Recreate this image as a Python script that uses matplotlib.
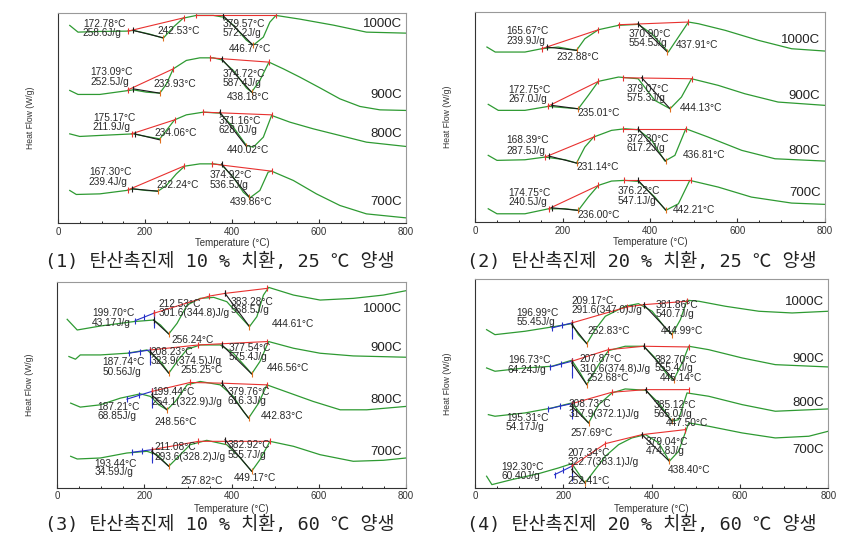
import matplotlib.pyplot as plt
from matplotlib.ticker import MultipleLocator

# curve data: (temperature in C, relative heat flow)
# panel 1 - 10 % replacement, 25 C curing
p1_1000 = [(27, 197.7), (46, 191), (96, 191.7), (157, 192), (173, 192.7), (211, 189), (242, 185),
           (265, 196), (288, 205), (318, 207.7), (357, 207.7), (380, 206), (403, 198), (433, 183),
           (449, 178), (472, 186), (487, 201), (501, 207.7), (556, 204), (633, 198), (709, 191), (800, 190)]
p1_900 = [(27, 132.7), (46, 128.7), (96, 128.7), (173, 133.3), (203, 131), (234, 130), (249, 139),
          (265, 154.3), (295, 162.7), (326, 165.3), (357, 165.3), (376, 163.3), (403, 152.7), (433, 135.3),
          (445, 131), (464, 142.7), (485, 161), (518, 154.3), (556, 146), (602, 135.3), (648, 124.3),
          (694, 116.7), (740, 113.3), (800, 112.7)]
p1_800 = [(27, 89.3), (50, 86.7), (96, 87.7), (173, 89.3), (203, 86.7), (234, 84.3), (249, 92.7),
          (268, 103.3), (295, 108.3), (334, 111), (372, 110), (403, 96), (433, 77.7), (449, 76),
          (472, 86), (491, 107.7), (533, 101), (587, 94.3), (633, 89.3), (709, 81), (800, 76.7)]
p1_700 = [(27, 32.7), (42, 28.7), (96, 29.3), (157, 32.7), (173, 34.3), (203, 32.7), (230, 32),
          (249, 37.7), (272, 49.3), (291, 57), (326, 59.3), (357, 59.3), (376, 58.3), (403, 46),
          (426, 31), (441, 25.3), (464, 32.7), (483, 51), (491, 52), (541, 42.7), (594, 29.3),
          (648, 17.7), (709, 9.3), (800, 5.3)]

# panel 2 - 20 % replacement, 25 C curing
p2_1000 = [(27, 175), (46, 170), (114, 170), (152, 173.3), (190, 175), (232, 171.7), (251, 183.3),
           (282, 192.3), (328, 196.7), (373, 197.7), (404, 188.3), (442, 170), (465, 185), (488, 200),
           (511, 198.3), (572, 191.7), (648, 181.7), (724, 173.3), (800, 171)]
p2_900 = [(30, 117.7), (53, 111.7), (114, 111.7), (168, 115.7), (206, 114.3), (236, 113.3), (259, 126.7),
          (282, 140.7), (328, 145), (373, 143.3), (411, 121.7), (446, 113.3), (472, 125), (495, 143.3),
          (556, 136.7), (617, 128.3), (693, 120), (800, 116.7)]
p2_800 = [(30, 66.7), (50, 61.7), (114, 62.3), (160, 65), (206, 62.3), (232, 59), (251, 75), (271, 85),
          (312, 91.7), (343, 93.3), (373, 92.3), (404, 81.7), (434, 61), (457, 66.7), (482, 93.3),
          (533, 85), (610, 71.7), (686, 63.3), (800, 61)]
p2_700 = [(30, 13.3), (50, 8.3), (114, 8.3), (168, 13.3), (206, 13.3), (236, 11.7), (259, 25),
          (282, 36.7), (312, 41), (343, 41.7), (373, 40.7), (411, 25), (436, 11.7), (465, 18.3),
          (491, 41.7), (556, 35), (632, 25), (724, 19), (800, 17.7)]

# panel 3 - 10 % replacement, 60 C curing
p3_1000 = [(23, 169), (46, 158.3), (99, 162.3), (175, 166.7), (221, 168.3), (237, 163.3), (256, 154.3),
           (275, 165), (298, 183.3), (328, 190), (359, 191), (389, 186.7), (420, 171.7), (441, 161.7),
           (458, 171.7), (473, 193.3), (485, 201), (542, 193.3), (603, 188.3), (679, 190), (748, 193.3),
           (800, 197.7)]
p3_900 = [(27, 131.7), (42, 129), (53, 133.3), (99, 133.3), (160, 135), (206, 138.3), (237, 126.7),
          (256, 115), (275, 126.7), (298, 139), (328, 143.3), (374, 143.3), (404, 135), (435, 120),
          (446, 114.3), (465, 126.7), (485, 146.7), (542, 140), (603, 135), (679, 132.3), (800, 131)]
p3_800 = [(31, 85), (53, 81), (99, 83.3), (145, 90), (191, 94.3), (214, 91.7), (233, 83.3), (252, 78.3),
          (271, 86.7), (298, 103.3), (328, 106.7), (374, 103.3), (404, 91.7), (427, 76.7), (439, 70),
          (462, 85), (481, 103.3), (534, 95), (587, 86.7), (649, 78.3), (710, 78.3), (800, 81.7)]
p3_700 = [(31, 31.7), (46, 29), (99, 30), (160, 35), (206, 36.7), (229, 33.3), (256, 21.7), (275, 30),
          (305, 43.3), (343, 47.7), (389, 43.3), (420, 30), (446, 16.7), (465, 28.3), (488, 46.7),
          (542, 41.7), (603, 33.3), (679, 26.7), (748, 27.7), (800, 30)]

# panel 4 - 20 % replacement, 60 C curing
p4_1000 = [(26, 158.3), (45, 153.3), (113, 156.7), (174, 161), (219, 164.3), (234, 153.3), (253, 144.3),
           (272, 158.3), (295, 171.7), (340, 181.7), (370, 184.3), (401, 176.7), (431, 160), (446, 153.3),
           (465, 168.3), (480, 187.7), (507, 186.7), (567, 181.7), (643, 176.7), (718, 175), (800, 176.7)]
p4_900 = [(26, 120), (45, 116.7), (113, 120), (174, 121.7), (219, 127.7), (238, 115), (253, 103.3),
          (280, 123.3), (302, 137.3), (340, 141.7), (382, 141.7), (408, 130), (438, 111.7), (450, 108.3),
          (469, 125), (484, 141.7), (529, 138.3), (605, 130), (680, 123.3), (800, 121)]
p4_800 = [(30, 73.3), (45, 71.7), (113, 75), (174, 80), (219, 85), (238, 75), (257, 65), (280, 83.3),
          (310, 95), (340, 99), (386, 97.7), (416, 85), (446, 66.7), (461, 68.3), (480, 95), (529, 91.7),
          (605, 83.3), (680, 76.7), (800, 79)]
p4_700 = [(26, 11.7), (38, 3.3), (83, 8.3), (144, 14.3), (189, 20), (219, 24.3), (249, 5), (272, 18.3),
          (295, 31.7), (325, 43.3), (355, 50), (386, 53.3), (416, 45), (440, 26.7), (461, 36.7),
          (484, 65), (529, 61.7), (605, 55), (680, 50), (756, 51.7), (800, 56.7)]

series_names = ['1000C', '900C', '800C', '700C']

# analysis lines: (color, points)
p1_lines = [
    ('r', [(161, 192), (289, 205.3)]), ('r', [(318, 207.7), (501, 207.7)]),
    ('k', [(173, 192.7), (242, 185.3)]), ('k', [(380, 207.3), (449, 177.7)]),
    ('r', [(161, 133.3), (265, 154.3)]), ('r', [(350, 165.3), (485, 161)]),
    ('k', [(173, 134.3), (234, 130)]), ('k', [(376, 164.3), (445, 131)]),
    ('r', [(169, 89.3), (268, 103.3)]), ('r', [(334, 111), (491, 108.3)]),
    ('k', [(176, 89.3), (234, 83.3)]), ('k', [(372, 111), (433, 76.7)]),
    ('r', [(161, 33.3), (289, 57)]), ('r', [(354, 59.3), (491, 52)]),
    ('k', [(171, 34.3), (230, 32)]), ('k', [(376, 59.3), (440, 26)]),
]
p2_lines = [
    ('r', [(152, 173.3), (282, 192.3)]), ('r', [(328, 197.3), (488, 200)]),
    ('k', [(164, 175), (232, 171.7)]), ('k', [(373, 198.3), (440, 170)]),
    ('r', [(166, 115.7), (282, 140.7)]), ('r', [(339, 144.3), (495, 143.3)]),
    ('k', [(175, 116.7), (235, 113.3)]), ('k', [(381, 144.3), (446, 113.3)]),
    ('r', [(160, 65), (271, 85)]), ('r', [(339, 93.3), (482, 93.3)]),
    ('k', [(169, 66), (232, 59)]), ('k', [(373, 93.3), (436, 61)]),
    ('r', [(168, 13.3), (282, 36.7)]), ('r', [(341, 41.7), (494, 41.7)]),
    ('k', [(175, 14.3), (236, 11.7)]), ('k', [(373, 41.7), (436, 12.3)]),
]
p3_lines = [
    ('b', [(179, 167.7), (200, 171.3), (221, 175)]), ('b', [(221, 175), (221, 163)]),
    ('r', [(221, 175), (349, 192.3), (385, 195), (481, 200)]),
    ('k', [(221, 168.3), (256, 154.3)]), ('k', [(385, 195), (441, 161.7)]),
    ('b', [(164, 135), (189, 136.7), (214, 138.3)]), ('b', [(214, 138.3), (214, 126)]),
    ('r', [(214, 138.3), (324, 143.3), (378, 144.5), (481, 146.7)]),
    ('k', [(214, 136.7), (256, 115)]), ('k', [(378, 143.3), (446, 114.3)]),
    ('b', [(160, 89), (188, 92.8), (217, 96.7)]), ('b', [(217, 96.7), (217, 83)]),
    ('r', [(217, 96.7), (305, 105.7), (378, 105), (481, 103.3)]),
    ('k', [(217, 93.3), (252, 78.3)]), ('k', [(378, 105), (439, 70)]),
    ('b', [(172, 35.7), (194, 37), (217, 38.3)]), ('b', [(217, 38.3), (217, 28)]),
    ('r', [(217, 38.3), (324, 46.7), (385, 46.7), (488, 46.7)]),
    ('k', [(217, 36.7), (256, 21.7)]), ('k', [(385, 48.3), (446, 16.7)]),
]
p4_lines = [
    ('b', [(174, 160), (196, 162.5), (219, 165)]), ('b', [(219, 165), (219, 152)]),
    ('r', [(219, 165), (344, 181), (382, 183.3), (480, 186.7)]),
    ('k', [(219, 163.3), (253, 144.3)]), ('k', [(382, 183.3), (446, 153.3)]),
    ('b', [(170, 121), (194, 123.8), (219, 126.7)]), ('b', [(219, 126.7), (219, 113)]),
    ('r', [(219, 126.7), (302, 138.3), (382, 141.7), (484, 141)]),
    ('k', [(219, 125), (253, 103.3)]), ('k', [(382, 141.7), (450, 108.3)]),
    ('b', [(166, 79), (192, 81.7), (219, 84.3)]), ('b', [(219, 84.3), (219, 72)]),
    ('r', [(219, 84.3), (310, 95.7), (386, 98.3), (484, 98.3)]),
    ('k', [(219, 81.7), (257, 65)]), ('k', [(386, 98.3), (446, 66.7)]),
    ('b', [(180, 13.3), (200, 17.5), (219, 21.7)]), ('b', [(219, 21.7), (219, 10)]),
    ('r', [(219, 21.7), (295, 44.3), (378, 53.3), (476, 58.3)]),
    ('k', [(219, 18.3), (249, 5)]), ('k', [(378, 53.3), (440, 26.7)]),
]

# annotation texts: (text, temperature, level)
p1_texts = [
    ('172.78°C', 57, 199.3), ('258.6J/g', 57, 190), ('242.53°C', 228, 192),
    ('379.57°C', 378, 199.3), ('572.2J/g', 378, 190), ('446.77°C', 393, 174.3),
    ('173.09°C', 74, 151), ('252.5J/g', 74, 141), ('233.93°C', 220, 138.7),
    ('374.72°C', 378, 149.3), ('587.4J/g', 378, 140), ('438.18°C', 387, 126),
    ('175.17°C', 80, 105.3), ('211.9J/g', 80, 96), ('234.06°C', 222, 90),
    ('371.16°C', 370, 102), ('628.0J/g', 370, 92.7), ('440.02°C', 389, 73.3),
    ('167.30°C', 71, 51), ('239.4J/g', 71, 41), ('232.24°C', 226, 37.7),
    ('374.92°C', 349, 47.7), ('536.5J/g', 349, 37.7), ('439.86°C', 395, 21),
]
p2_texts = [
    ('165.67°C', 71, 190.7), ('239.9J/g', 71, 181), ('232.88°C', 187, 165),
    ('370.90°C', 352, 188.3), ('554.5J/g', 352, 179), ('437.91°C', 459, 176.7),
    ('172.75°C', 76, 132.3), ('267.0J/g', 76, 123), ('235.01°C', 235, 109),
    ('379.07°C', 347, 133.3), ('575.3J/g', 347, 124.3), ('444.13°C', 469, 114.3),
    ('168.39°C', 71, 81.7), ('287.5J/g', 71, 71), ('231.14°C', 232, 55),
    ('372.30°C', 347, 83.3), ('617.2J/g', 347, 74), ('436.81°C', 474, 66.7),
    ('174.75°C', 76, 29), ('240.5J/g', 76, 20), ('236.00°C', 235, 7.3),
    ('376.22°C', 326, 31), ('547.1J/g', 326, 21), ('442.21°C', 453, 12.3),
]
p3_texts = [
    ('199.70°C', 80, 175.7), ('43.17J/g', 80, 165.7), ('212.53°C', 233, 184.3),
    ('301.6(344.8)J/g', 233, 175), ('256.24°C', 261, 148.3), ('383.28°C', 398, 186.7),
    ('568.5J/g', 398, 178.3), ('444.61°C', 492, 164.3),
    ('208.23°C', 214, 136.7), ('323.9(374.5)J/g', 214, 127.7), ('187.74°C', 103, 126.5),
    ('50.56J/g', 103, 116.5), ('255.25°C', 282, 117.7), ('377.54°C', 393, 140),
    ('575.4J/g', 393, 131), ('446.56°C', 481, 120),
    ('199.44°C', 217, 95.7), ('254.1(322.9)J/g', 217, 85.7), ('187.21°C', 92, 81),
    ('68.85J/g', 92, 71.7), ('248.56°C', 223, 65.7), ('379.76°C', 391, 95.7),
    ('616.3J/g', 391, 86.7), ('442.83°C', 467, 72.3),
    ('211.08°C', 223, 41), ('293.6(328.2)J/g', 223, 31), ('193.44°C', 85, 24.3),
    ('34.59J/g', 85, 15.7), ('257.82°C', 282, 6.7), ('382.92°C', 391, 43.3),
    ('555.7J/g', 391, 33.3), ('449.17°C', 404, 10),
]
p4_texts = [
    ('209.17°C', 218, 186.7), ('291.6(347.0)J/g', 218, 177.7), ('196.99°C', 94, 175),
    ('55.45J/g', 94, 166), ('381.86°C', 408, 182.5), ('540.7J/g', 408, 174),
    ('252.83°C', 255, 157.3), ('444.99°C', 420, 157.3),
    ('196.73°C', 74, 127.7), ('64.24J/g', 74, 118.3), ('207.87°C', 236, 129),
    ('310.6(374.8)J/g', 236, 119.3), ('382.70°C', 407, 128.3), ('555.4J/g', 407, 120),
    ('252.68°C', 253, 110), ('445.14°C', 418, 110),
    ('208.73°C', 212, 84), ('317.9(372.1)J/g', 212, 74.3), ('385.12°C', 404, 83.3),
    ('565.0J/g', 404, 74.3), ('195.31°C', 70, 70), ('54.17J/g', 70, 61),
    ('257.69°C', 215, 55), ('447.50°C', 432, 65),
    ('379.04°C', 387, 45.7), ('474.8J/g', 387, 36.7), ('207.34°C', 210, 35),
    ('322.7(383.1)J/g', 210, 25.7), ('192.30°C', 59, 21), ('60.40J/g', 59, 12.3),
    ('438.40°C', 437, 18.3), ('252.41°C', 210, 6.7),
]

# name label level for each curve
p1_name_y = [199, 127.7, 89.3, 21]
p2_name_y = [182.3, 125.7, 71, 29]
p3_name_y = [179, 140, 87.7, 35.7]
p4_name_y = [185.7, 129, 85, 38.3]

captions = ['(1) 탄산촉진제 10 % 치환, 25 ℃ 양생', '(2) 탄산촉진제 20 % 치환, 25 ℃ 양생',
            '(3) 탄산촉진제 10 % 치환, 60 ℃ 양생', '(4) 탄산촉진제 20 % 치환, 60 ℃ 양생']

fig = plt.figure(figsize=(8.53, 5.47), dpi=100)

panels = [
    ([0.068, 0.592, 0.408, 0.384], 210, [p1_1000, p1_900, p1_800, p1_700], p1_lines, p1_texts, p1_name_y),
    ([0.557, 0.594, 0.410, 0.384], 210, [p2_1000, p2_900, p2_800, p2_700], p2_lines, p2_texts, p2_name_y),
    ([0.067, 0.108, 0.409, 0.377], 206.7, [p3_1000, p3_900, p3_800, p3_700], p3_lines, p3_texts, p3_name_y),
    ([0.557, 0.108, 0.414, 0.382], 209, [p4_1000, p4_900, p4_800, p4_700], p4_lines, p4_texts, p4_name_y),
]

colors = {'r': '#e8312f', 'k': '#1a1a1a', 'b': '#2630c8'}
green = '#2e9a32'

for i, (rect, top, curves, lines, texts, name_y) in enumerate(panels):
    ax = fig.add_axes(rect)
    for c in curves:
        ax.plot([p[0] for p in c], [p[1] for p in c], color=green, lw=0.9)
    for col, pts in lines:
        xs = [p[0] for p in pts]
        ys = [p[1] for p in pts]
        ax.plot(xs, ys, color=colors[col], lw=0.8)
        if col == 'k':
            ax.plot(xs[0], ys[0], marker='|', ms=5, mew=0.8, color=colors['k'])
            ax.plot(xs[-1], ys[-1], marker='|', ms=5, mew=0.8, color='#e07020')
        else:
            ax.plot(xs, ys, ls='none', marker='|', ms=5, mew=0.8, color=colors[col])
    for t, x, y in texts:
        ax.text(x, y, t, fontsize=7.3, family='Liberation Sans', color='#2a2a2a',
                ha='left', va='center')
    for name, y in zip(series_names, name_y):
        ax.text(790, y, name, fontsize=9.5, family='Liberation Sans', color='#222222',
                ha='right', va='center')
    ax.set_xlim(0, 800)
    ax.set_ylim(0, top)
    ax.set_yticks([])
    ax.xaxis.set_major_locator(MultipleLocator(200))
    ax.xaxis.set_minor_locator(MultipleLocator(50))
    ax.tick_params(axis='x', labelsize=7, length=3, pad=2.5, direction='in', colors='#333333')
    ax.tick_params(axis='x', which='minor', length=1.5, direction='in')
    for lab in ax.get_xticklabels():
        lab.set_family('Liberation Sans')
    ax.set_xlabel('Temperature (°C)', fontsize=7, family='Liberation Sans', color='#333333')
    ax.xaxis.set_label_coords(0.5, -0.07 if i < 2 else -0.078)
    ax.set_ylabel('Heat Flow (W/g)', fontsize=6.2, family='Liberation Sans', color='#333333')
    ax.yaxis.set_label_coords(-0.066, 0.5)
    ax.spines['left'].set_color('#333333')
    ax.spines['bottom'].set_color('#333333')
    ax.spines['top'].set_color('#999999')
    ax.spines['right'].set_color('#999999')
    for s in ax.spines.values():
        s.set_linewidth(0.8)

cap_pos = [(0.053, 0.521), (0.547, 0.521), (0.053, 0.040), (0.547, 0.040)]
for (x, y), cap in zip(cap_pos, captions):
    fig.text(x, y, cap, fontsize=13.3, family=['DejaVu Sans Mono', 'Noto Sans CJK KR'],
             color='#222222', ha='left', va='center')

fig.savefig('out.png', dpi=100)
